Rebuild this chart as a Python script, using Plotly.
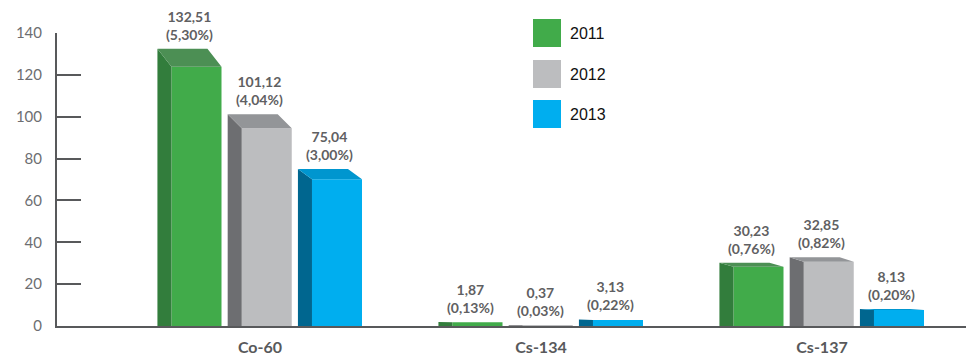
import plotly.graph_objects as go

categories = ["Co-60", "Cs-134", "Cs-137"]
years = ["2011", "2012", "2013"]
v2011 = [132.51, 1.87, 30.23]
v2012 = [101.12, 0.37, 32.85]
v2013 = [75.04, 3.13, 8.13]
pct2011 = ["5,30%", "0,13%", "0,76%"]
pct2012 = ["4,04%", "0,03%", "0,82%"]
pct2013 = ["3,00%", "0,22%", "0,20%"]
y_ticks = [0, 20, 40, 60, 80, 100, 120, 140]

series = [v2011, v2012, v2013]
pcts = [pct2011, pct2012, pct2013]

front_cols = ["#41AB4A", "#BCBDBF", "#00AEEF"]
side_cols = ["#327D3C", "#6D6E71", "#00668F"]
top_cols = ["#4C8F54", "#939598", "#0096CF"]

starts = [-0.365, -0.115, 0.135]   # bar start offsets (category units)
sw = 0.05     # side strip width
fw = 0.178    # front face width
depth_ratio = 0.065

fig = go.Figure()
annotations = []
xs = list(range(len(categories)))

for i, (vals, pc) in enumerate(zip(series, pcts)):
    st = starts[i]
    depths = [depth_ratio * v for v in vals]
    # front face
    fig.add_trace(go.Bar(
        x=xs, y=[v - d for v, d in zip(vals, depths)],
        offset=st + sw, width=fw,
        marker=dict(color=front_cols[i], line=dict(width=0)),
        showlegend=False, hoverinfo="skip"))
    # side and top polygons
    sx, sy, tx, ty = [], [], [], []
    for x, v, d in zip(xs, vals, depths):
        a = x + st
        sx += [a, a, a + sw, a + sw, a, None]
        sy += [0, v, v - d, 0, 0, None]
        tx += [a, a + fw, a + sw + fw, a + sw, a, None]
        ty += [v, v, v - d, v - d, v, None]
    fig.add_trace(go.Scatter(x=sx, y=sy, mode="lines", fill="toself",
                             fillcolor=side_cols[i], line=dict(width=0),
                             showlegend=False, hoverinfo="skip"))
    fig.add_trace(go.Scatter(x=tx, y=ty, mode="lines", fill="toself",
                             fillcolor=top_cols[i], line=dict(width=0),
                             showlegend=False, hoverinfo="skip"))
    for x, v, p in zip(xs, vals, pc):
        annotations.append(dict(
            x=x + st + (sw + fw) / 2, y=v, xref="x", yref="y",
            text=f"<b>{v:.2f}".replace(".", ",") + f"</b><br><b>({p})</b>",
            showarrow=False, yanchor="bottom", yshift=4,
            font=dict(family="Lato", size=14, color="#5F6062")))

# manual legend (pixel positions relative to the plot area)
sq_y = [(19, 47), (60, 88), (100, 128)]
ph = 293.0
pw = 913.0
shapes = []
for i, yr in enumerate(years):
    y0, y1 = sq_y[i]
    shapes.append(dict(type="rect", xref="paper", yref="paper",
                       x0=(533 - 57) / pw, x1=(561 - 57) / pw,
                       y0=(326 - y1) / ph, y1=(326 - y0) / ph,
                       fillcolor=front_cols[i], line=dict(width=0)))
    annotations.append(dict(x=(568 - 57) / pw, y=(326 - (y0 + y1) / 2) / ph,
                            xref="paper", yref="paper", text=yr,
                            showarrow=False, xanchor="left", yanchor="middle",
                            font=dict(family="Liberation Sans", size=16, color="#111111")))

# small end tick on x axis
shapes.append(dict(type="line", xref="paper", yref="y", x0=1, x1=1, y0=0, y1=4,
                   line=dict(color="#58595B", width=2)))

# page body has an 8px margin; size the figure to fit the 974x359 window
fig.update_layout(
    width=966, height=351,
    margin=dict(l=49, r=4, t=25, b=33),
    plot_bgcolor="white", paper_bgcolor="white",
    barmode="overlay",
    shapes=shapes, annotations=annotations,
    xaxis=dict(range=[-0.7224, 2.5267], tickvals=xs, ticktext=categories,
               showgrid=False, zeroline=False, showline=True,
               linecolor="#58595B", linewidth=2, ticks="",
               tickfont=dict(family="Lato", size=16, color="#58595B", weight="bold"),
               ticklabelstandoff=6),
    yaxis=dict(range=[0, 140], tickvals=y_ticks, showgrid=False, zeroline=False,
               showline=True, linecolor="#58595B", linewidth=2,
               ticks="inside", ticklen=24, tickwidth=2, tickcolor="#58595B",
               tickfont=dict(family="Lato", size=15, color="#6D6E71"),
               ticklabelstandoff=10),
)

fig.write_html("out.html")
